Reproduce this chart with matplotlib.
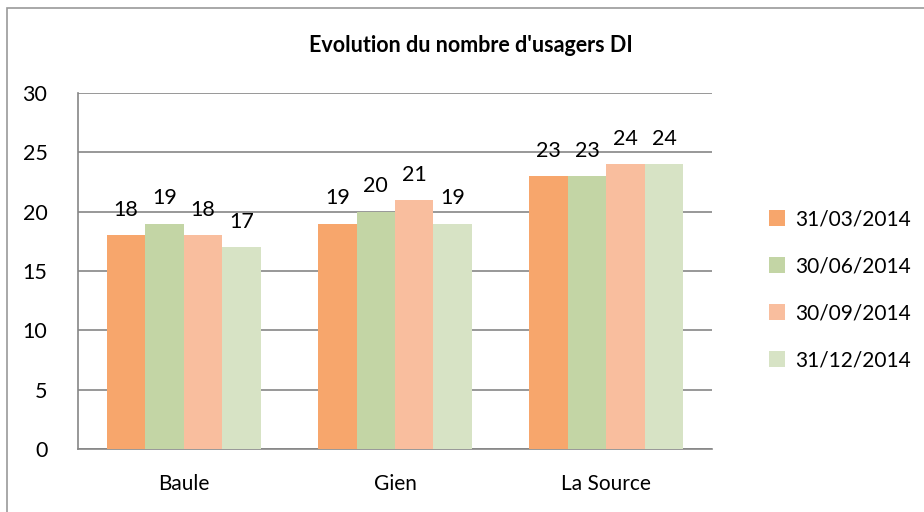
import matplotlib.pyplot as plt
import numpy as np
from matplotlib.patches import Rectangle

plt.rcParams['font.family'] = ['Lato', 'DejaVu Sans']

sites = ['Baule', 'Gien', 'La Source']
dates = ['31/03/2014', '30/06/2014', '30/09/2014', '31/12/2014']
values = [
    [18, 19, 23],
    [19, 20, 23],
    [18, 21, 24],
    [17, 19, 24],
]
colors = ['#F7A66C', '#C3D5A5', '#F9BE9E', '#D7E3C5']

fig = plt.figure(figsize=(9.24, 5.12), dpi=100)
ax = fig.add_axes([78 / 924, 1 - 449 / 512, (712 - 78) / 924, (449 - 93) / 512])

# outer chart border (clipped at right and bottom like the reference)
fig.patches.append(Rectangle((7 / 924, -0.1), 1.2, 1 - 8 / 512 + 0.1, transform=fig.transFigure,
                             fill=False, edgecolor='#9a9a9a', linewidth=1.2))

x = np.arange(len(sites))
w = 0.182
for i, (d, vals) in enumerate(zip(dates, values)):
    pos = x + (i - 1.5) * w
    bars = ax.bar(pos, vals, width=w, color=colors[i], label=d, zorder=3)
    for b, v in zip(bars, vals):
        ax.annotate(str(v), (b.get_x() + b.get_width() / 2, v), xytext=(0, 11),
                    textcoords='offset points', ha='center', va='bottom', fontsize=15.5)

ax.set_xlim(-0.5, 2.5)
ax.set_ylim(0, 30)
ax.set_yticks(range(0, 31, 5))
ax.set_xticks(x)
ax.set_xticklabels(sites, fontsize=15)
ax.tick_params(axis='y', labelsize=15.5, length=0, pad=22)
ax.tick_params(axis='x', length=0, pad=18)
ax.grid(axis='y', color='#868686', linewidth=1.2, zorder=0)
for s in ['top', 'right']:
    ax.spines[s].set_visible(False)
for s in ['left', 'bottom']:
    ax.spines[s].set_color('#868686')
    ax.spines[s].set_linewidth(1.2)

fig.text(471 / 924, 1 - 46 / 512, "Evolution du nombre d'usagers DI",
         ha='center', va='center', fontsize=15.5, fontweight='bold')

fig.legend(loc='center left', bbox_to_anchor=(750 / 924, 1 - 290 / 512), frameon=False,
           fontsize=15, handlelength=0.8, handleheight=0.8, handletextpad=0.45, labelspacing=1.3)

fig.savefig('out.png', dpi=100)
